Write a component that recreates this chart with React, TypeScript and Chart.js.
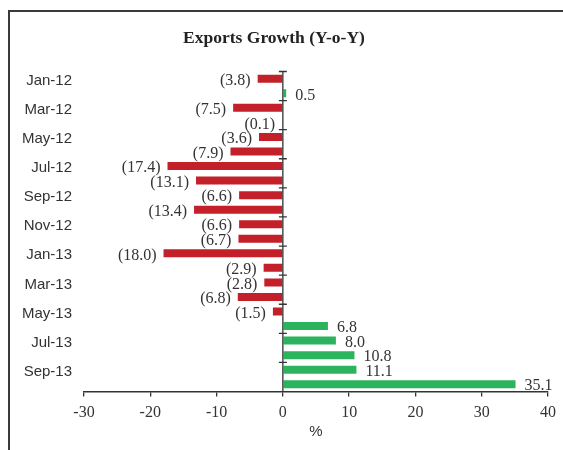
import React, { useEffect, useRef } from "react";
import { Chart, registerables } from "chart.js";

Chart.register(...registerables);

const chartTitle = "Exports Growth (Y-o-Y)";
const xAxisTitle = "%";
const categories = [
  "Jan-12", "Feb-12", "Mar-12", "Apr-12", "May-12", "Jun-12",
  "Jul-12", "Aug-12", "Sep-12", "Oct-12", "Nov-12", "Dec-12",
  "Jan-13", "Feb-13", "Mar-13", "Apr-13", "May-13", "Jun-13",
  "Jul-13", "Aug-13", "Sep-13", "Oct-13",
];
const growth = [
  -3.8, 0.5, -7.5, -0.1, -3.6, -7.9,
  -17.4, -13.1, -6.6, -13.4, -6.6, -6.7,
  -18.0, -2.9, -2.8, -6.8, -1.5, 6.8,
  8.0, 10.8, 11.1, 35.1,
];
const xMin = -30;
const xMax = 40;
const xStep = 10;

const RED = "#C3202A";
const GREEN = "#2CB35E";
const INK = "#333333";

const fmt = (v: number) => (v < 0 ? `(${Math.abs(v).toFixed(1)})` : v.toFixed(1));

const overlayPlugin = {
  id: "overlay",
  afterDatasetsDraw(chart: any) {
    const { ctx, chartArea, scales } = chart;
    const xs = scales.x;
    const ys = scales.y;
    const x0 = xs.getPixelForValue(0);
    ctx.save();
    ctx.strokeStyle = INK;
    ctx.lineWidth = 1.3;
    ctx.beginPath();
    ctx.moveTo(x0, chartArea.top);
    ctx.lineTo(x0, chartArea.bottom);
    const step = ys.getPixelForValue(1) - ys.getPixelForValue(0);
    for (let k = 0; k < categories.length; k += 2) {
      const yb = ys.getPixelForValue(k) - step / 2;
      ctx.moveTo(x0 - 4, yb);
      ctx.lineTo(x0 + 4, yb);
    }
    ctx.stroke();
    ctx.font = "16px 'Liberation Serif', serif";
    ctx.fillStyle = INK;
    ctx.textBaseline = "middle";
    const meta = chart.getDatasetMeta(0);
    meta.data.forEach((el: any, i: number) => {
      const v = growth[i];
      if (v < 0) {
        ctx.textAlign = "right";
        ctx.fillText(fmt(v), Math.min(el.x, x0) - 7, el.y + 2);
      } else {
        ctx.textAlign = "left";
        ctx.fillText(fmt(v), Math.max(el.x, x0) + 9, el.y + 2);
      }
    });
    ctx.restore();
  },
};

export default function App() {
  const ref = useRef<HTMLCanvasElement | null>(null);
  useEffect(() => {
    if (!ref.current) return;
    const chart = new Chart(ref.current, {
      type: "bar",
      data: {
        labels: categories,
        datasets: [
          {
            data: growth,
            backgroundColor: growth.map((v) => (v < 0 ? RED : GREEN)),
            borderWidth: 0,
            barPercentage: 0.55,
            categoryPercentage: 1.0,
          },
        ],
      },
      options: {
        indexAxis: "y",
        responsive: false,
        animation: false,
        layout: { padding: { left: 0, right: 15, top: 0, bottom: 0 } },
        plugins: {
          legend: { display: false },
          tooltip: { enabled: false },
          title: {
            display: true,
            text: chartTitle,
            color: "#222",
            font: { family: "'Liberation Serif', serif", size: 17.5, weight: "bold", lineHeight: 1.2 },
            padding: { top: 28, bottom: 22.5 },
          },
        },
        scales: {
          x: {
            type: "linear",
            min: xMin,
            max: xMax,
            ticks: {
              stepSize: xStep,
              color: INK,
              padding: 7,
              font: { family: "'Liberation Serif', serif", size: 16 },
            },
            grid: { drawOnChartArea: false, drawTicks: true, tickLength: 5, color: INK, lineWidth: 1.3 },
            border: { display: true, color: INK, width: 1.5 },
            title: {
              display: true,
              text: xAxisTitle,
              color: INK,
              font: { family: "'Liberation Sans', sans-serif", size: 15 },
              padding: { top: 0, bottom: 9 },
            },
            afterFit: (s: any) => {
              s.height = 58.5;
            },
          },
          y: {
            type: "category",
            grid: { display: false, drawTicks: false },
            border: { display: false },
            ticks: {
              autoSkip: false,
              padding: 12,
              labelOffset: 2,
              color: INK,
              font: { family: "'Liberation Sans', sans-serif", size: 15 },
              callback: (_v: any, i: number) => (i % 2 === 0 ? categories[i] : ""),
            },
            afterFit: (s: any) => {
              s.width = 84;
            },
          },
        },
      },
      plugins: [overlayPlugin],
    } as any);
    return () => chart.destroy();
  }, []);

  return (
    <>
      <div
        style={{
          position: "fixed",
          left: 8,
          top: 10,
          width: 700,
          height: 600,
          borderLeft: "2px solid #3a3a3a",
          borderTop: "2px solid #3a3a3a",
          boxSizing: "border-box",
        }}
      />
      <canvas
        ref={ref}
        width={563}
        height={450}
        style={{ position: "fixed", left: 0, top: 0, width: 563, height: 450 }}
      />
    </>
  );
}
